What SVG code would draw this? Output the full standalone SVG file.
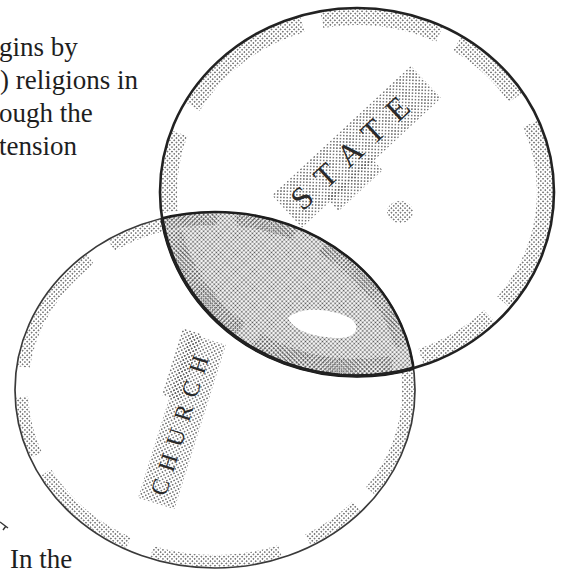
<svg xmlns="http://www.w3.org/2000/svg" width="563" height="573" viewBox="0 0 563 573">
  <defs>
    <pattern id="ht" width="3.2" height="3.2" patternUnits="userSpaceOnUse" patternTransform="rotate(45)">
      <circle cx="1.6" cy="1.6" r="0.85" fill="#5a5a5a"/>
    </pattern>
    <pattern id="htd" width="3" height="3" patternUnits="userSpaceOnUse" patternTransform="rotate(45)">
      <circle cx="1.5" cy="1.5" r="0.95" fill="#505050"/>
    </pattern>
    <clipPath id="stateClip">
      <ellipse cx="357" cy="192" rx="197" ry="184"/>
    </clipPath>
    <clipPath id="churchClip">
      <ellipse cx="215" cy="390" rx="200" ry="178"/>
    </clipPath>
    <style>
      .txt { font-family: "Liberation Serif", "DejaVu Serif", serif; font-size: 27px; fill: #1e1e1e; }
      .lbl { font-family: "Liberation Serif", "DejaVu Serif", serif; fill: #2a2a2a; }
      .band { fill: none; stroke: url(#ht); }
    </style>
  </defs>
  <rect width="563" height="573" fill="#ffffff"/>

  <g id="paragraph">
    <text class="txt" x="-1" y="56">gins by</text>
    <text class="txt" x="0" y="89">) religions in</text>
    <text class="txt" x="-1" y="122">ough the</text>
    <text class="txt" x="-1" y="155">tension</text>
    <path d="M0,522 L8,528 M6,526 L3,530" stroke="#333" stroke-width="1.4" fill="none"/>
    <text class="txt" x="10" y="568">In the</text>
  </g>

  <g id="church">
    <ellipse class="band" cx="215" cy="390" rx="193" ry="171" stroke-width="12" stroke-dasharray="110 20 60 30 130 25"/>
    <g transform="rotate(-72.6 181 421)">
      <rect x="95" y="403" width="172" height="38" fill="url(#ht)"/>
      <rect x="200" y="395" width="70" height="20" fill="url(#ht)"/>
    </g>
    <ellipse cx="215" cy="390" rx="200" ry="178" fill="none" stroke="#3a3a3a" stroke-width="1.7"/>
    <text class="lbl" font-size="24" letter-spacing="9" text-anchor="middle" dominant-baseline="central" transform="translate(181 421) rotate(-72.6)">CHURCH</text>
  </g>

  <g id="state">
    <ellipse class="band" cx="357" cy="192" rx="188" ry="175" stroke-width="16" stroke-dasharray="120 20 80 30 140 20"/>
    <g transform="rotate(-43 355 148)">
      <rect x="262" y="126" width="190" height="44" fill="url(#ht)"/>
      <rect x="300" y="165" width="60" height="18" fill="url(#ht)"/>
    </g>
    <ellipse cx="400" cy="212" rx="13" ry="11" fill="url(#ht)"/>
    <text class="lbl" font-size="32" letter-spacing="14" text-anchor="middle" dominant-baseline="central" transform="translate(355 148) rotate(-43)">STATE</text>
  </g>

  <g id="overlap">
    <g clip-path="url(#stateClip)">
      <ellipse cx="215" cy="390" rx="200" ry="178" fill="url(#htd)"/>
      <path d="M288,318 C300,306 330,308 350,318 C362,326 356,338 340,338 C318,338 294,332 288,318 Z" fill="#ffffff"/>
      <ellipse cx="215" cy="390" rx="200" ry="178" fill="none" stroke="#1e1e1e" stroke-width="2.6"/>
    </g>
    <g clip-path="url(#churchClip)">
      <ellipse cx="357" cy="192" rx="197" ry="184" fill="none" stroke="#1a1a1a" stroke-width="3.5"/>
    </g>
    <ellipse cx="357" cy="192" rx="197" ry="184" fill="none" stroke="#222" stroke-width="2.6"/>
  </g>
</svg>
